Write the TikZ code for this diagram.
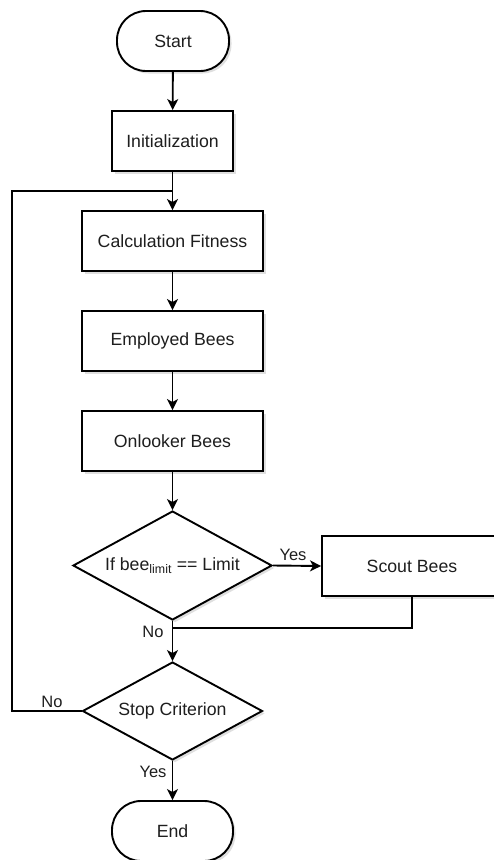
\documentclass[tikz,border=0pt]{standalone}
\usepackage{fontspec}
\setmainfont{Liberation Sans}
\usetikzlibrary{shapes.geometric,arrows.meta,shadows}
\definecolor{txt}{RGB}{30,30,30}
\begin{document}
\begin{tikzpicture}[x=1pt,y=-1pt,
  base/.style={draw=black,line width=1.9pt,fill=white,text=txt,
    font=\fontsize{17.7}{20}\selectfont,inner sep=0pt,
    drop shadow={shadow xshift=2.5pt,shadow yshift=-2.5pt,fill=black!25}},
  term/.style={base,rectangle,rounded corners=29pt,minimum height=60pt},
  proc/.style={base,rectangle,minimum height=60pt},
  dec/.style={base,diamond,shape aspect=1.8},
  conn/.style={line width=1.9pt,draw=black},
  arr/.style={conn,-{Stealth[length=11pt,width=11pt,inset=3pt]}},
  lbl/.style={text=txt,font=\fontsize{16.5}{19}\selectfont,inner sep=0pt}]
\useasboundingbox (0,0) rectangle (494,860);

\node[term,minimum width=112pt] (start) at (173,41) {Start};
\node[proc,minimum width=121pt] (init) at (172.5,141) {Initialization};
\node[proc,minimum width=181pt] (calc) at (172.5,241) {Calculation Fitness};
\node[proc,minimum width=181pt] (emp) at (172.5,341) {Employed Bees};
\node[proc,minimum width=181pt] (onl) at (172.5,441) {Onlooker Bees};
\node[dec,minimum width=199pt,minimum height=109pt] (d1) at (172.5,565.5) {If bee\textsubscript{limit} == Limit};
\node[proc,minimum width=180pt] (scout) at (412,566) {Scout Bees};
\node[dec,minimum width=180pt,minimum height=98pt] (d2) at (172.5,711) {Stop Criterion};
\node[term,minimum width=121pt] (end) at (172.5,831) {End};

\coordinate (loopj) at (172.5,191);
\coordinate (loopl) at (12,191);
\coordinate (loopb) at (12,711);
\coordinate (mergej) at (172.5,628);
\coordinate (scoutb) at (412,628);

\draw[arr] (start) -- (init);
\draw[arr] (init) -- (calc);
\draw[arr] (calc) -- (emp);
\draw[arr] (emp) -- (onl);
\draw[arr] (onl) -- (d1);
\draw[arr] (d1.east) -- (scout.west);
\draw[conn] (scout.south) -- (scoutb) -- (mergej);
\draw[arr] (d1.south) -- (d2.north);
\draw[conn] (d2.west) -- (loopb) -- (loopl) -- (loopj);
\draw[arr] (d2.south) -- (end.north);

\node[lbl] (yes1) at (293,555) {Yes};
\node[lbl] (no1) at (153,632) {No};
\node[lbl] (no2) at (52,702) {No};
\node[lbl] (yes2) at (153,772) {Yes};
\end{tikzpicture}
\end{document}
